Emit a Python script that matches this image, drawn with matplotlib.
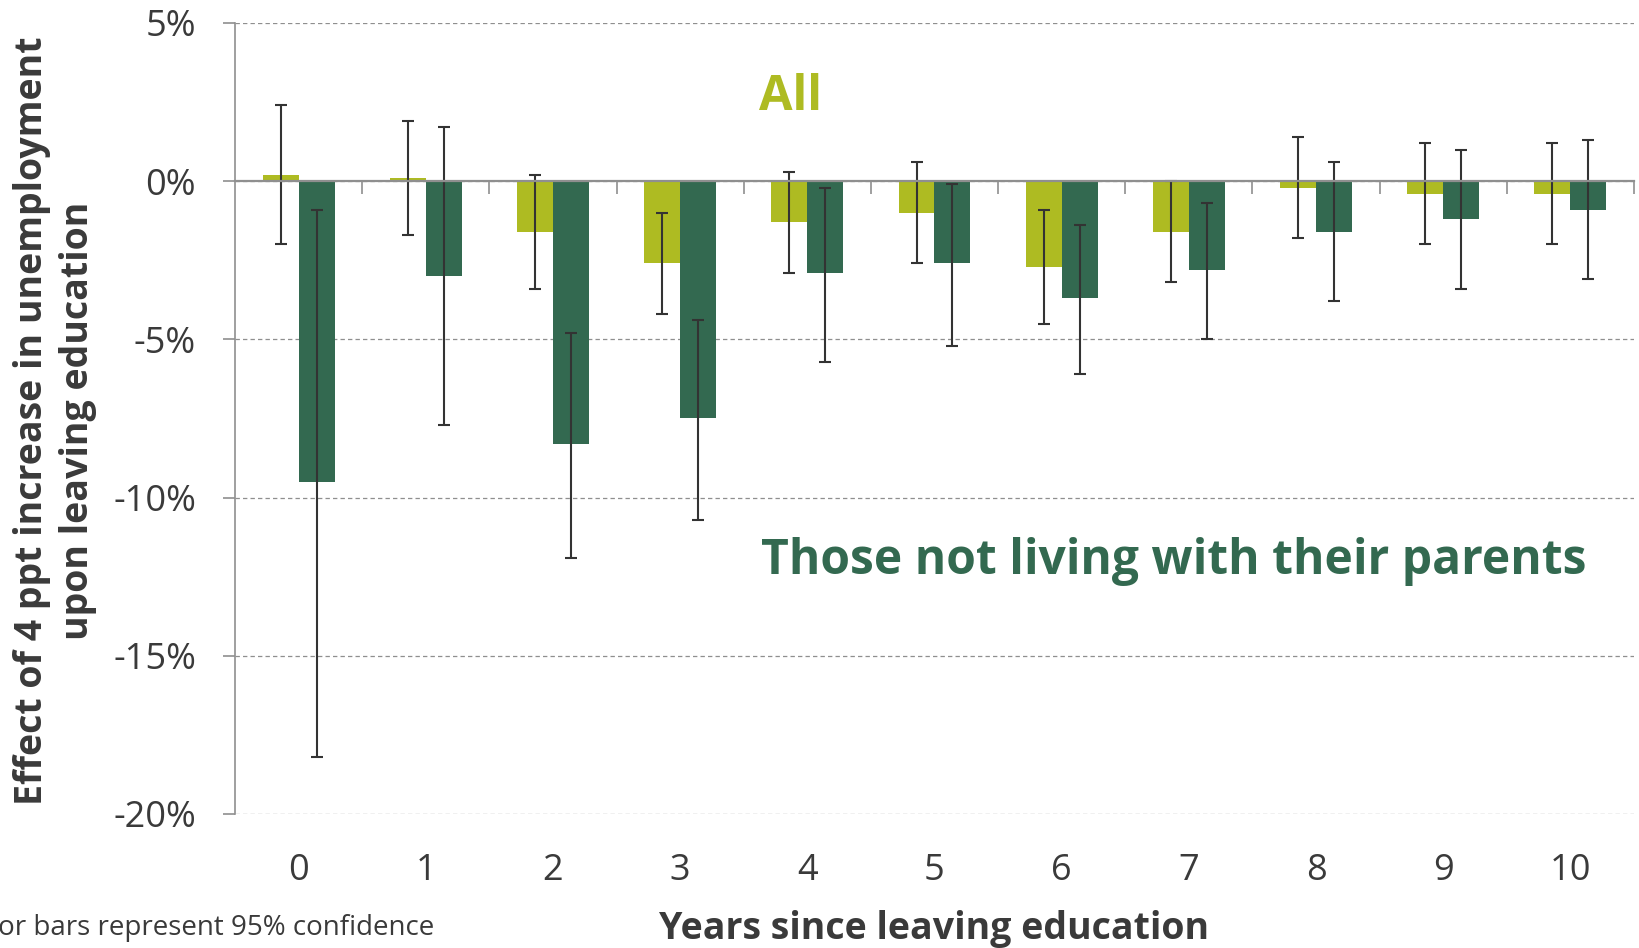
import matplotlib
matplotlib.use('Agg')
import matplotlib.pyplot as plt
from matplotlib.ticker import FuncFormatter
import numpy as np

plt.rcParams['font.family'] = ['Open Sans', 'DejaVu Sans']

# effect (percentage points) and 95% confidence bounds by years since leaving education
years = list(range(11))
year_labels = [str(y) for y in years]

all_effect = [0.2, 0.1, -1.6, -2.6, -1.3, -1.0, -2.7, -1.6, -0.2, -0.4, -0.4]
all_low = [-2.0, -1.7, -3.4, -4.2, -2.9, -2.6, -4.5, -3.2, -1.8, -2.0, -2.0]
all_high = [2.4, 1.9, 0.2, -1.0, 0.3, 0.6, -0.9, 0.0, 1.4, 1.2, 1.2]

away_effect = [-9.5, -3.0, -8.3, -7.5, -2.9, -2.6, -3.7, -2.8, -1.6, -1.2, -0.9]
away_low = [-18.2, -7.7, -11.9, -10.7, -5.7, -5.2, -6.1, -5.0, -3.8, -3.4, -3.1]
away_high = [-0.9, 1.7, -4.8, -4.4, -0.2, -0.1, -1.4, -0.7, 0.6, 1.0, 1.3]

LIME = '#aebb22'
DARK = '#336950'
GREY = '#8f8f8f'
TEXT = '#3a3a3a'

fig = plt.figure(figsize=(16.4, 9.48), dpi=100)
ax = fig.add_axes([235 / 1640, 1 - 814 / 948, 1399 / 1640, (814 - 23) / 948])

x = np.array(years)
w = 0.283

def err(eff, lo, hi):
    eff = np.array(eff)
    return [eff - np.array(lo), np.array(hi) - eff]

ax.bar(x - w / 2, all_effect, w, color=LIME, zorder=2)
ax.bar(x + w / 2, away_effect, w, color=DARK, zorder=2)
ax.errorbar(x - w / 2, all_effect, yerr=err(all_effect, all_low, all_high),
            fmt='none', ecolor='#333333', elinewidth=1.5, capsize=4.3, capthick=1.5, zorder=3)
ax.errorbar(x + w / 2, away_effect, yerr=err(away_effect, away_low, away_high),
            fmt='none', ecolor='#333333', elinewidth=1.5, capsize=4.3, capthick=1.5, zorder=3)

ax.set_xlim(-0.5, 10.5)
ax.set_ylim(-20, 5)
ax.set_yticks([5, 0, -5, -10, -15, -20])
ax.yaxis.set_major_formatter(FuncFormatter(lambda v, p: f"{v:.0f}%"))
ax.yaxis.grid(True, color=GREY, linestyle=(0, (3.5, 2.5)), linewidth=0.9, zorder=0)
ax.set_axisbelow(True)

for s in ['top', 'right']:
    ax.spines[s].set_visible(False)
ax.spines['left'].set_color(GREY)
ax.spines['left'].set_linewidth(1.2)
ax.spines['bottom'].set_position(('data', 0))
ax.spines['bottom'].set_color(GREY)
ax.spines['bottom'].set_linewidth(1.6)
ax.spines['bottom'].set_zorder(4)

ax.tick_params(axis='y', length=9, width=1.2, color=GREY, labelsize=26,
               labelcolor=TEXT, pad=19)
# short ticks between categories, hanging from the zero line
ax.set_xticks(np.arange(0.5, 11, 1))
ax.tick_params(axis='x', length=9.5, width=1.2, color=GREY, labelbottom=False)

# category labels sit under the plot area, not on the zero line
sec = ax.secondary_xaxis('bottom')
sec.set_xticks(years, year_labels)
sec.tick_params(length=0, pad=28, labelsize=26, labelcolor=TEXT)
sec.spines['bottom'].set_visible(False)

fig.text(791 / 1640, 1 - 97 / 948, 'All', fontsize=35, fontweight='bold',
         color=LIME, ha='center', va='center')
fig.text(761 / 1640, 1 - 561 / 948, 'Those not living with their parents',
         fontsize=34.6, fontweight='bold', color=DARK, ha='left', va='center')

fig.text(55 / 1640, 1 - 421 / 948,
         'Effect of 4 ppt increase in unemployment\nupon leaving education',
         rotation=90, fontsize=27, fontweight='bold', color=TEXT,
         ha='center', va='center', linespacing=1.3)
fig.text(934 / 1640, 1 - 939 / 948, 'Years since leaving education',
         fontsize=27, fontweight='bold', color=TEXT, ha='center', va='baseline')
fig.text(434 / 1640, 1 - 935 / 948, 'Error bars represent 95% confidence',
         fontsize=20, color=TEXT, ha='right', va='baseline')

fig.savefig('out.png', dpi=100)
